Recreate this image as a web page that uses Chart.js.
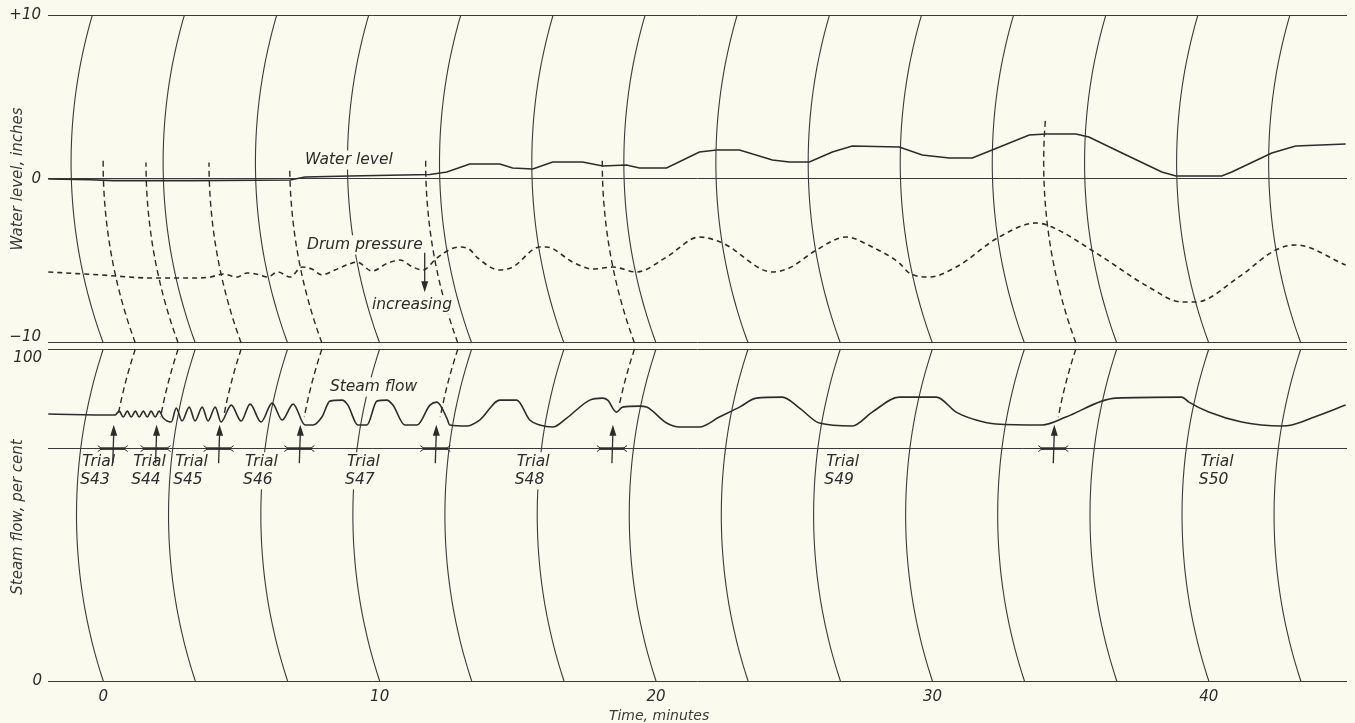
<!DOCTYPE html>
<html>
<head>
<meta charset="utf-8">
<title>Water level, drum pressure and steam flow</title>
<script src="https://cdn.jsdelivr.net/npm/chart.js@4.4.1/dist/chart.umd.min.js"></script>
<style>
  html, body { margin: 0; padding: 0; background: #fbfaef; }
  #wrap { width: 1355px; height: 723px; }
</style>
</head>
<body>
<div id="wrap"><canvas id="chart" width="1355" height="723"></canvas></div>
<script>
// time axis, minutes
const timeTicks = [0, 10, 20, 30, 40];
const gridArcTimes = [0, 3.33, 6.67, 10, 13.33, 16.67, 20, 23.33, 26.67, 30, 33.33, 36.67, 40, 43.33];

// upper panel: water level, inches
const topTickValues = [10, 0, -10];
const topTickLabels = ["+10", "0", "\u221210"];
// lower panel: steam flow, per cent
const lowTickValues = [100, 0];
const lowTickLabels = ["100", "0"];
const lowGridValues = [0, 70, 100];

const waterTime = [-1.99, -0.47, 0.36, 3.14, 6.76, 7.30, 8.93, 11.82, 12.43, 13.26, 14.35, 14.81, 15.54, 16.26, 17.34, 18.07, 18.93, 19.40, 20.38, 21.57, 22.19, 23.02, 24.21, 24.82, 25.55, 26.38, 27.10, 28.80, 29.63, 30.61, 31.44, 32.16, 33.50, 34.11, 35.19, 35.66, 36.86, 38.30, 38.81, 40.47, 40.83, 42.28, 43.14, 44.95];
const waterLevel = [0, -0.05, -0.1, -0.1, -0.06, 0.12, 0.18, 0.27, 0.43, 0.91, 0.91, 0.67, 0.61, 1.04, 1.04, 0.79, 0.85, 0.67, 0.67, 1.65, 1.77, 1.77, 1.16, 1.04, 1.04, 1.65, 2.01, 1.95, 1.46, 1.28, 1.28, 1.77, 2.68, 2.74, 2.74, 2.56, 1.59, 0.43, 0.18, 0.18, 0.43, 1.59, 2.01, 2.13];

const drumTime = [-1.99, -0.11, 1.81, 3.14, 3.87, 4.34, 4.84, 5.20, 5.67, 5.93, 6.32, 6.76, 7.19, 7.55, 7.91, 8.38, 8.82, 9.18, 9.72, 10.30, 10.73, 11.20, 11.56, 12.07, 12.54, 12.90, 13.26, 13.51, 14.35, 14.81, 15.79, 16.04, 16.98, 17.71, 18.43, 19.30, 20.38, 21.57, 22.40, 24.21, 24.82, 25.80, 26.88, 27.82, 28.80, 29.16, 29.88, 30.86, 32.41, 33.75, 34.33, 35.92, 37.83, 39.02, 39.53, 41.08, 42.42, 43.14, 44.95];
const drumPressure = [-5.67, -5.85, -6.04, -6.04, -5.98, -5.79, -5.98, -5.73, -5.85, -5.98, -5.67, -5.98, -5.37, -5.49, -5.85, -5.55, -5.24, -5.06, -5.61, -5.12, -4.94, -5.37, -5.55, -4.82, -4.30, -4.15, -4.30, -4.76, -5.55, -5.37, -4.15, -4.15, -5.06, -5.49, -5.37, -5.67, -4.76, -3.54, -3.90, -5.67, -5.43, -4.33, -3.54, -4.15, -5.12, -5.73, -5.98, -5.37, -3.54, -2.68, -2.93, -4.51, -6.59, -7.50, -7.50, -5.98, -4.33, -4.02, -5.24];

const steamTime = [-1.99, 0.36, 0.43, 0.58, 0.72, 0.87, 1.01, 1.16, 1.30, 1.45, 1.59, 1.73, 1.88, 2.02, 2.17, 2.46, 2.64, 2.85, 3.11, 3.32, 3.58, 3.79, 4.05, 4.26, 4.63, 4.99, 5.31, 5.71, 6.11, 6.47, 6.87, 7.30, 7.59, 7.91, 8.20, 8.64, 8.85, 9.21, 9.54, 9.90, 10.26, 10.48, 10.91, 11.35, 11.82, 12.07, 12.43, 12.54, 13.15, 13.62, 14.35, 14.96, 15.43, 15.79, 16.26, 16.77, 17.60, 18.07, 18.25, 18.57, 18.79, 19.40, 19.66, 20.38, 20.85, 21.57, 22.29, 23.02, 23.63, 24.57, 25.19, 25.91, 27.10, 27.82, 28.80, 30.14, 30.86, 31.58, 32.30, 33.97, 34.83, 36.13, 36.64, 39.02, 39.28, 40.00, 41.19, 42.64, 43.00, 43.72, 44.95];
const steamFlow = [80.4, 80.1, 80.1, 81.3, 79.5, 81.3, 79.5, 81.3, 79.5, 81.3, 79.5, 81.3, 79.5, 81.3, 79.2, 78.0, 82.2, 78.3, 82.5, 78.3, 82.5, 78.3, 82.5, 78.0, 83.1, 78.3, 83.4, 78.0, 83.7, 78.6, 83.4, 77.1, 77.1, 79.5, 84.3, 84.6, 83.1, 77.1, 77.1, 84.3, 84.6, 83.1, 77.1, 77.1, 83.1, 84.0, 79.2, 77.1, 76.8, 78.6, 84.6, 84.6, 78.6, 77.1, 76.5, 79.2, 84.6, 85.2, 84.6, 81.0, 82.5, 82.8, 82.5, 77.7, 76.5, 76.5, 79.5, 82.5, 85.2, 85.5, 82.2, 77.7, 76.8, 81.0, 85.5, 85.5, 81.0, 78.6, 77.4, 77.1, 79.5, 84.3, 85.2, 85.5, 84.0, 81.0, 78.0, 76.8, 77.1, 79.2, 83.1];

// trial start lines (time where the dashed arc meets the panel edge) and where they stop
const trialArcTimes = [1.16, 2.71, 4.99, 7.91, 12.83, 19.22, 35.19];
const trialTopEnds = [1.3, 1.0, 1.0, 0.7, 1.3, 1.35, 3.6];
const trialLowEnds = [80.1, 79.5, 80.7, 79.5, 79.5, 82.5, 79.5];
const trialNames = ["S43", "S44", "S45", "S46", "S47", "S48", "S49", "S50"];
const trialLabelTimes = [-0.76, 1.08, 2.60, 5.13, 8.82, 14.96, 26.16, 39.71];

const INK = "#2c2c2a";
const ARC = "#3a3a38";
const PAPER = "#fbfaef";
const FONT = '"DejaVu Sans", sans-serif';

const PANELS = {
  top: { axis: "yTop", from: -10, to: 10, anchor: -10, center: 1 },
  low: { axis: "yLow", from: 0, to: 100, anchor: 100, center: 50 },
};

function toPoints(xs, ys) {
  return xs.map((x, i) => ({ x: x, y: ys[i] }));
}

// x pixel of a chart-paper arc at a given value
function arcX(chart, panel, t, v) {
  const xs = chart.scales.x;
  const ys = chart.scales[panel.axis];
  const yA = ys.getPixelForValue(panel.anchor);
  const yC = ys.getPixelForValue(panel.center);
  const R = 1.59 * Math.abs(ys.getPixelForValue(panel.to) - ys.getPixelForValue(panel.from));
  const y = ys.getPixelForValue(v);
  return xs.getPixelForValue(t) + Math.sqrt(R * R - (yA - yC) ** 2) - Math.sqrt(R * R - (y - yC) ** 2);
}

function strokeArc(ctx, chart, panel, t, v1, v2) {
  const ys = chart.scales[panel.axis];
  ctx.beginPath();
  for (let i = 0; i <= 60; i++) {
    const v = v1 + ((v2 - v1) * i) / 60;
    const x = arcX(chart, panel, t, v);
    const y = ys.getPixelForValue(v);
    if (i === 0) ctx.moveTo(x, y);
    else ctx.lineTo(x, y);
  }
  ctx.stroke();
}

function note(ctx, text, x, y, size) {
  ctx.font = `italic ${size}px ${FONT}`;
  ctx.textAlign = "left";
  ctx.textBaseline = "middle";
  const w = ctx.measureText(text).width;
  ctx.fillStyle = PAPER;
  ctx.fillRect(x - 1, y - size * 0.62, w + 3, size * 1.24);
  ctx.fillStyle = INK;
  ctx.fillText(text, x, y);
}

function arrowHead(ctx, x, y, dir, len, half) {
  // dir: -1 points up, 1 points down
  ctx.beginPath();
  ctx.moveTo(x, y);
  ctx.lineTo(x - half, y - dir * len);
  ctx.lineTo(x + half, y - dir * len);
  ctx.closePath();
  ctx.fill();
}

const paperPlugin = {
  id: "paper",
  beforeDraw(chart) {
    const { ctx, width, height } = chart;
    ctx.save();
    ctx.fillStyle = PAPER;
    ctx.fillRect(0, 0, width, height);
    ctx.restore();
  },
  beforeDatasetsDraw(chart) {
    const { ctx, chartArea } = chart;
    const x = chart.scales.x;
    const yTop = chart.scales.yTop;
    const yLow = chart.scales.yLow;

    ctx.save();
    ctx.beginPath();
    ctx.rect(chartArea.left, chartArea.top, chartArea.width, chartArea.height);
    ctx.clip();

    // recorder chart time arcs
    ctx.strokeStyle = ARC;
    ctx.lineWidth = 1.1;
    gridArcTimes.forEach((t) => {
      strokeArc(ctx, chart, PANELS.top, t, -10, 10);
      strokeArc(ctx, chart, PANELS.low, t, 0, 100);
    });

    // dashed lines from each trial start
    ctx.strokeStyle = INK;
    ctx.lineWidth = 1.4;
    ctx.setLineDash([6, 4]);
    trialArcTimes.forEach((t, i) => {
      strokeArc(ctx, chart, PANELS.top, t, -10, trialTopEnds[i]);
      strokeArc(ctx, chart, PANELS.low, t, 100, trialLowEnds[i]);
    });
    ctx.setLineDash([]);

    // notes
    note(ctx, "Water level", x.getPixelForValue(7.3), yTop.getPixelForValue(1.16), 15.5);
    note(ctx, "Drum pressure", x.getPixelForValue(7.37), yTop.getPixelForValue(-4.02), 15.5);
    note(ctx, "increasing", x.getPixelForValue(9.72), yTop.getPixelForValue(-7.68), 15.5);
    note(ctx, "Steam flow", x.getPixelForValue(8.2), yLow.getPixelForValue(88.55), 15.5);
    trialNames.forEach((name, i) => {
      const px = x.getPixelForValue(trialLabelTimes[i]);
      note(ctx, "Trial", px, yLow.getPixelForValue(66.0), 15.5);
      note(ctx, name, px - 2, yLow.getPixelForValue(60.6), 15.5);
    });
    ctx.restore();
  },
  afterDatasetsDraw(chart) {
    const { ctx } = chart;
    const x = chart.scales.x;
    const yTop = chart.scales.yTop;
    const yLow = chart.scales.yLow;
    ctx.save();
    ctx.strokeStyle = INK;
    ctx.fillStyle = INK;

    // "increasing" arrow
    const ax = x.getPixelForValue(11.63);
    const ay1 = yTop.getPixelForValue(-4.5);
    const ay2 = yTop.getPixelForValue(-6.9);
    ctx.lineWidth = 1.3;
    ctx.beginPath();
    ctx.moveTo(ax, ay1);
    ctx.lineTo(ax, ay2 - 8);
    ctx.stroke();
    arrowHead(ctx, ax, ay2, 1, 11, 3.5);

    // trial start markers on the reference line
    const yRef = yLow.getPixelForValue(70);
    trialArcTimes.forEach((t) => {
      const mx = arcX(chart, PANELS.low, t, 70);
      ctx.lineWidth = 2.6;
      ctx.beginPath();
      ctx.moveTo(mx - 12, yRef);
      ctx.lineTo(mx + 12, yRef);
      ctx.stroke();
      ctx.lineWidth = 1;
      ctx.beginPath();
      ctx.moveTo(mx - 15, yRef - 3);
      ctx.lineTo(mx - 11, yRef);
      ctx.lineTo(mx - 15, yRef + 3);
      ctx.moveTo(mx + 15, yRef - 3);
      ctx.lineTo(mx + 11, yRef);
      ctx.lineTo(mx + 15, yRef + 3);
      ctx.stroke();
      const top = yLow.getPixelForValue(77.2);
      ctx.lineWidth = 1.3;
      ctx.beginPath();
      ctx.moveTo(mx, yLow.getPixelForValue(65.6));
      ctx.lineTo(mx + 1, top + 8);
      ctx.stroke();
      arrowHead(ctx, mx + 1, top, -1, 11, 3.5);
    });
    ctx.restore();
  },
  afterDraw(chart) {
    const { ctx, chartArea } = chart;
    const x = chart.scales.x;
    const yTop = chart.scales.yTop;
    const yLow = chart.scales.yLow;
    ctx.save();
    ctx.fillStyle = INK;
    ctx.font = `italic 15px ${FONT}`;
    ctx.textAlign = "right";
    ctx.textBaseline = "middle";
    topTickValues.forEach((v, i) => {
      const shift = v === -10 ? -6 : 0;
      ctx.fillText(topTickLabels[i], chartArea.left - 7, yTop.getPixelForValue(v) + shift);
    });
    lowTickValues.forEach((v, i) => {
      const shift = v === 100 ? 9 : 0;
      ctx.fillText(lowTickLabels[i], chartArea.left - 6, yLow.getPixelForValue(v) + shift);
    });

    ctx.fillStyle = "#3a3a38";
    ctx.textAlign = "center";
    ctx.font = `italic 14px ${FONT}`;
    ctx.fillText("Time, minutes", x.getPixelForValue(20) + 3, 716);

    ctx.font = `italic 15px ${FONT}`;
    const titles = [
      ["Water level, inches", (yTop.getPixelForValue(10) + yTop.getPixelForValue(-10)) / 2],
      ["Steam flow, per cent", (yLow.getPixelForValue(100) + yLow.getPixelForValue(0)) / 2 + 2],
    ];
    titles.forEach(([text, cy]) => {
      ctx.save();
      ctx.translate(18, cy);
      ctx.rotate(-Math.PI / 2);
      ctx.fillText(text, 0, 0);
      ctx.restore();
    });
    ctx.restore();
  },
};

const lineStyle = {
  borderColor: INK,
  borderWidth: 1.6,
  pointRadius: 0,
  fill: false,
};

const chart = new Chart(document.getElementById("chart"), {
  type: "line",
  data: {
    datasets: [
      { ...lineStyle, label: "Water level", data: toPoints(waterTime, waterLevel), yAxisID: "yTop", tension: 0 },
      { ...lineStyle, label: "Drum pressure", data: toPoints(drumTime, drumPressure), yAxisID: "yTop", borderDash: [5, 4], cubicInterpolationMode: "monotone" },
      { ...lineStyle, label: "Steam flow", data: toPoints(steamTime, steamFlow), yAxisID: "yLow", cubicInterpolationMode: "monotone" },
    ],
  },
  options: {
    responsive: false,
    animation: false,
    devicePixelRatio: 1,
    layout: { padding: { top: 15, right: 8, left: 0, bottom: 0 } },
    plugins: { legend: { display: false }, tooltip: { enabled: false } },
    scales: {
      x: {
        type: "linear",
        min: -2,
        max: 45,
        grid: { display: false, drawTicks: false },
        border: { display: false },
        ticks: { color: INK, padding: 7, maxRotation: 0, font: { family: FONT, size: 15, style: "italic" } },
        afterBuildTicks: (s) => { s.ticks = timeTicks.map((v) => ({ value: v })); },
        afterFit: (s) => { s.height = 42; },
      },
      yLow: {
        type: "linear",
        position: "left",
        stack: "panels",
        stackWeight: 332,
        min: 0,
        max: 100,
        grid: { color: ARC, lineWidth: 1, drawTicks: false },
        border: { display: false },
        ticks: { display: false },
        afterBuildTicks: (s) => { s.ticks = lowGridValues.map((v) => ({ value: v })); },
        afterFit: (s) => { s.width = 48; },
      },
      yTop: {
        type: "linear",
        position: "left",
        stack: "panels",
        stackWeight: 334,
        min: -10.366,
        max: 10,
        grid: { color: ARC, lineWidth: 1, drawTicks: false },
        border: { display: false },
        ticks: { display: false },
        afterBuildTicks: (s) => { s.ticks = topTickValues.map((v) => ({ value: v })); },
        afterFit: (s) => { s.width = 48; },
      },
    },
  },
  plugins: [paperPlugin],
});
</script>
</body>
</html>
